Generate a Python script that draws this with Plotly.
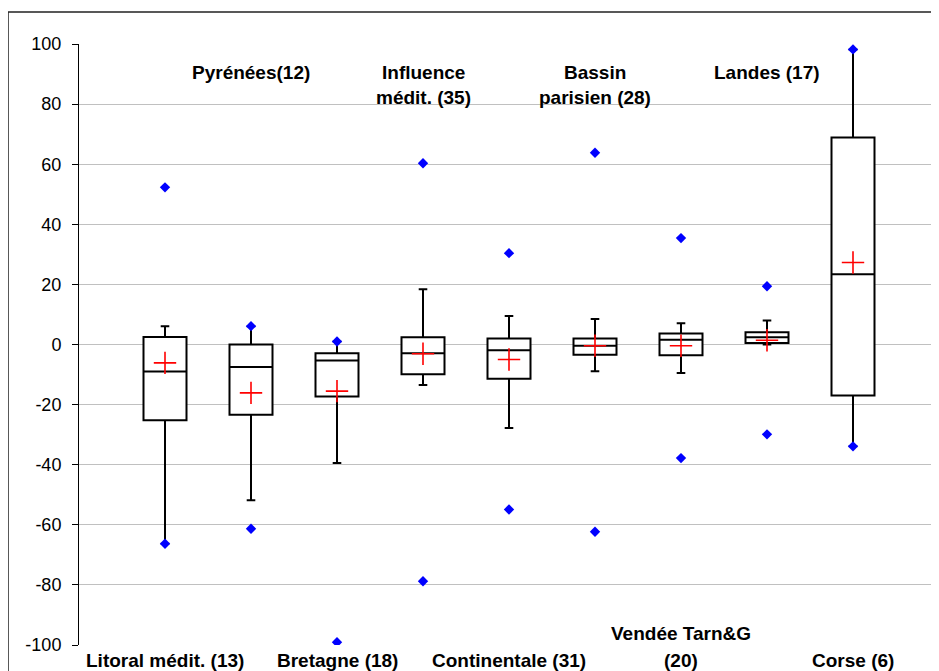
import plotly.graph_objects as go

# ---- data ----
categories = ["Litoral médit. (13)", "Pyrénées(12)", "Bretagne (18)",
              "Influence\nmédit. (35)", "Continentale (31)", "Bassin\nparisien (28)",
              "Vendée Tarn&G\n(20)", "Landes (17)", "Corse (6)"]
positions = [1, 2, 3, 4, 5, 6, 7, 8, 9]
q3_vals = [2.5, 0.0, -2.9, 2.4, 2.0, 2.0, 3.7, 4.1, 68.9]
median_vals = [-9.0, -7.5, -5.3, -2.9, -1.9, -0.4, 1.6, 2.4, 23.4]
q1_vals = [-25.2, -23.4, -17.3, -9.9, -11.4, -3.4, -3.6, 0.5, -17.0]
upper_whisker = [6.1, 6.1, 1.0, 18.4, 9.5, 8.5, 7.1, 8.0, 98.2]
lower_whisker = [-66.3, -51.8, -39.4, -13.5, -27.8, -8.9, -9.5, 0.0, -33.9]
mean_vals = [-6.1, -16.1, -15.5, -3.1, -5.0, -0.4, -0.4, 1.4, 27.3]
min_vals = [-66.3, -61.3, -99.1, -78.8, -54.9, -62.3, -37.8, -29.9, -33.9]
max_vals = [52.3, 6.1, 1.0, 60.3, 30.4, 63.8, 35.4, 19.4, 98.2]
y_ticks = [-100, -80, -60, -40, -20, 0, 20, 40, 60, 80, 100]
y_tick_text = [str(v) for v in y_ticks]

FONT = "Liberation Sans, Arial, sans-serif"

fig = go.Figure()

fig.add_trace(go.Box(
    x=positions, q1=q1_vals, median=median_vals, q3=q3_vals,
    lowerfence=lower_whisker, upperfence=upper_whisker,
    width=0.5, whiskerwidth=0.2, boxpoints=False,
    fillcolor="white", line=dict(color="black", width=2),
    hoverinfo="skip", showlegend=False,
))

fig.add_trace(go.Scatter(
    x=positions + positions, y=min_vals + max_vals, mode="markers",
    marker=dict(symbol="diamond", size=8, color="#0000FF"),
    hoverinfo="skip", showlegend=False,
))

fig.add_trace(go.Scatter(
    x=positions, y=mean_vals, mode="markers",
    marker=dict(symbol="cross-thin", size=16, line=dict(color="#FF0000", width=1.6)),
    hoverinfo="skip", showlegend=False,
))

annotations = []
for i, (pos, lab) in enumerate(zip(positions, categories)):
    lines = lab.split("\n")
    top = (i % 2 == 1)
    for j, line in enumerate(lines):
        if top:
            yshift = -28 - 25 * j
            yref_y = 1
        else:
            yshift = -15 + 27 * (len(lines) - 1 - j)
            yref_y = 0
        annotations.append(dict(
            x=pos, y=yref_y, xref="x", yref="paper", text="<b>" + line + "</b>",
            showarrow=False, xanchor="center", yanchor="middle", yshift=yshift,
            font=dict(family=FONT, size=19, color="black"),
        ))

# page body has an 8px margin: the figure is sized so the plot lands where the reference has it
fig.update_layout(
    width=931, height=663,
    margin=dict(l=71, r=0, t=36, b=26),
    paper_bgcolor="white", plot_bgcolor="white",
    annotations=annotations,
    shapes=[dict(type="rect", xref="paper", yref="paper",
                 x0=-71 / 860, x1=1.1, y0=-0.2, y1=1 + 32 / 601,
                 line=dict(color="#222222", width=1.5), fillcolor="rgba(0,0,0,0)")],
    xaxis=dict(range=[0, 10], showgrid=False, zeroline=False, showticklabels=False,
               ticks="", showline=False, fixedrange=True),
    yaxis=dict(range=[-100, 100], tickvals=y_ticks, ticktext=y_tick_text,
               showgrid=True, gridcolor="#c0c0c0",
               gridwidth=1, zeroline=False, showline=True, linecolor="black", linewidth=1,
               ticks="outside", ticklen=6, tickcolor="black", tickwidth=1,
               ticklabelstandoff=7,
               tickfont=dict(family=FONT, size=18, color="black")),
)

fig.write_html("out.html")
